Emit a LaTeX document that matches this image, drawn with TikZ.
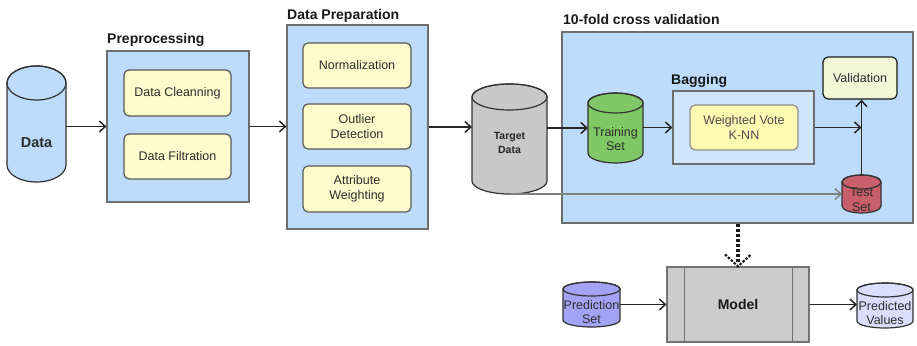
\documentclass[tikz,border=0pt]{standalone}
\usepackage{fontspec}
\setmainfont{Liberation Sans}
\usetikzlibrary{arrows.meta}
\definecolor{boxblue}{RGB}{189,220,251}
\definecolor{bagblue}{RGB}{206,229,252}
\definecolor{grpline}{RGB}{110,110,110}
\definecolor{yfill}{RGB}{255,251,204}
\definecolor{kfill}{RGB}{255,249,178}
\definecolor{vfill}{RGB}{242,247,216}
\definecolor{txt}{RGB}{45,45,45}
\definecolor{cgreen}{RGB}{128,200,102}
\definecolor{cred}{RGB}{200,95,107}
\definecolor{cgrey}{RGB}{200,200,200}
\definecolor{cpurp}{RGB}{163,163,245}
\definecolor{cpale}{RGB}{220,220,252}
\definecolor{mgrey}{RGB}{204,204,204}
\newcommand\fs[1]{\fontsize{#1}{14.5}\selectfont}
\newcommand\mycyl[7]{%
  \node[inner sep=0pt,outer sep=0pt,minimum width=#4pt,minimum height=#5pt] (#1) at (#2,#3) {};
  \path[cylline,fill=#7] ([yshift=-#6pt]#1.north west) -- ([yshift=#6pt]#1.south west)
    arc[start angle=180,end angle=360,x radius=#4pt/2,y radius=#6pt]
    -- ([yshift=-#6pt]#1.north east)
    arc[start angle=0,end angle=180,x radius=#4pt/2,y radius=#6pt] -- cycle;
  \draw[cylline] ([yshift=-#6pt]#1.north) ellipse[x radius=#4pt/2,y radius=#6pt];
}
\begin{document}
\begin{tikzpicture}[x=1pt,y=-1pt,
  grp/.style={draw=grpline,fill=boxblue,line width=1.2pt,inner sep=0pt},
  ybox/.style={draw=black!65,fill=yfill,rounded corners=5pt,line width=1.2pt,align=center,font=\fs{12.5},text=txt,inner sep=0pt},
  ttl/.style={font=\bfseries\fs{14},anchor=base west,inner sep=0pt,text=black!90},
  cylline/.style={draw=black!80,line width=1.2pt},
  ctxt/.style={font=\fs{12.5},text=txt,align=center,inner sep=0pt},
  arr/.style={-{Straight Barb[length=6pt,width=11pt,line width=1.5pt]},line width=1.5pt,draw=black!85},
  garr/.style={-{Straight Barb[length=6pt,width=11pt,line width=1.5pt]},line width=1.7pt,draw=black!50},
  dotln/.style={line width=3.5pt,dash pattern=on 3pt off 2pt,draw=black!90},
  dotchev/.style={line width=2.2pt,dash pattern=on 2.5pt off 1.5pt,draw=black!90}
]
\useasboundingbox (0,0) rectangle (917,345);

% group boxes
\node[grp,minimum width=142pt,minimum height=151pt] (pre) at (178,126.5) {};
\node[grp,minimum width=141pt,minimum height=204pt] (prep) at (357.5,127) {};
\node[grp,minimum width=351pt,minimum height=191pt] (cv) at (737.5,127.5) {};
\node[grp,fill=bagblue,minimum width=141pt,minimum height=73pt] (bag) at (743.5,127.5) {};

% titles
\node[ttl] (tpre) at (107,44) {Preprocessing};
\node[ttl] (tprep) at (287,19.5) {Data Preparation};
\node[ttl] (tcv) at (563,25) {10-fold cross validation};
\node[ttl] (tbag) at (671,84) {Bagging};

% inner boxes
\node[ybox,minimum width=107pt,minimum height=46pt] (clean) at (177.5,93) {Data Cleanning};
\node[ybox,minimum width=107pt,minimum height=45pt] (filt) at (177.5,156.5) {Data Filtration};
\node[ybox,minimum width=108pt,minimum height=45pt] (norm) at (357,65.5) {Normalization};
\node[ybox,minimum width=108pt,minimum height=45pt] (outl) at (357,126.5) {Outlier\\Detection};
\node[ybox,minimum width=108pt,minimum height=46pt] (attr) at (357,189) {Attribute\\Weighting};
\node[ybox,fill=kfill,draw=black!45,text=black!70,minimum width=108pt,minimum height=45pt] (knn) at (744,127.5) {Weighted Vote\\K-NN};
\node[ybox,fill=vfill,draw=black!90,minimum width=74pt,minimum height=42pt] (val) at (860,78) {Validation};

% model
\node[draw=black!55,fill=mgrey,line width=1.2pt,minimum width=142pt,minimum height=75pt,inner sep=0pt,font=\bfseries\fs{14},text=black!90] (model) at (738,304.5) {Model};
\draw[draw=black!55,line width=1.2pt] ([xshift=18pt]model.north west) -- ([xshift=18pt]model.south west);
\draw[draw=black!55,line width=1.2pt] ([xshift=-17pt]model.north east) -- ([xshift=-17pt]model.south east);

% cylinders
\mycyl{data}{36.5}{124}{59}{116}{17}{boxblue}
\node[ctxt,font=\bfseries\fs{14.5}] (datat) at (36.5,143) {Data};
\mycyl{target}{509.5}{139}{75}{110}{13}{cgrey}
\node[ctxt,font=\bfseries\fs{10.5},text=black!85] (targett) at (509.5,143) {\baselineskip=12pt Target\\Data};
\mycyl{train}{615.5}{128}{55}{70}{10}{cgreen}
\node[ctxt] (traint) at (615.5,139) {Training\\Set};
\mycyl{test}{861.5}{194}{39}{38}{7}{cred}
\node[ctxt] (testt) at (861.5,200) {Test\\Set};
\mycyl{pred}{591.5}{304.5}{57}{45}{7}{cpurp}
\node[ctxt] (predt) at (591.5,312) {Prediction\\Set};
\mycyl{predv}{885}{305.5}{56}{45}{7}{cpale}
\node[ctxt] (predvt) at (885,313) {Predicted\\Values};

% connectors
\draw[arr] (data.east |- pre.west) -- (pre.west);
\draw[arr] (pre.east) -- (pre.east -| prep.west);
\draw[arr] (prep.east) -- (prep.east -| target.west);
\draw[arr] (target.east |- train.west) -- (train.west);
\draw[arr] (train.east |- bag.west) -- (bag.west);
\coordinate (join) at (test.north |- bag.east);
\draw[arr] (bag.east) -- (join);
\draw[arr] (test.north) -- (test.north |- val.south);
\draw[garr] (target.south) -- (target.south |- test.west) -- (test.west);
\draw[dotln] (cv.south -| model.north) -- ([yshift=4pt]model.north);
\draw[dotchev] ([xshift=-13pt,yshift=12pt]model.north) -- (model.north) -- ([xshift=13pt,yshift=12pt]model.north);
\draw[arr] (pred.east) -- (pred.east -| model.west);
\draw[arr] (model.east) -- (model.east -| predv.west);
\end{tikzpicture}
\end{document}
